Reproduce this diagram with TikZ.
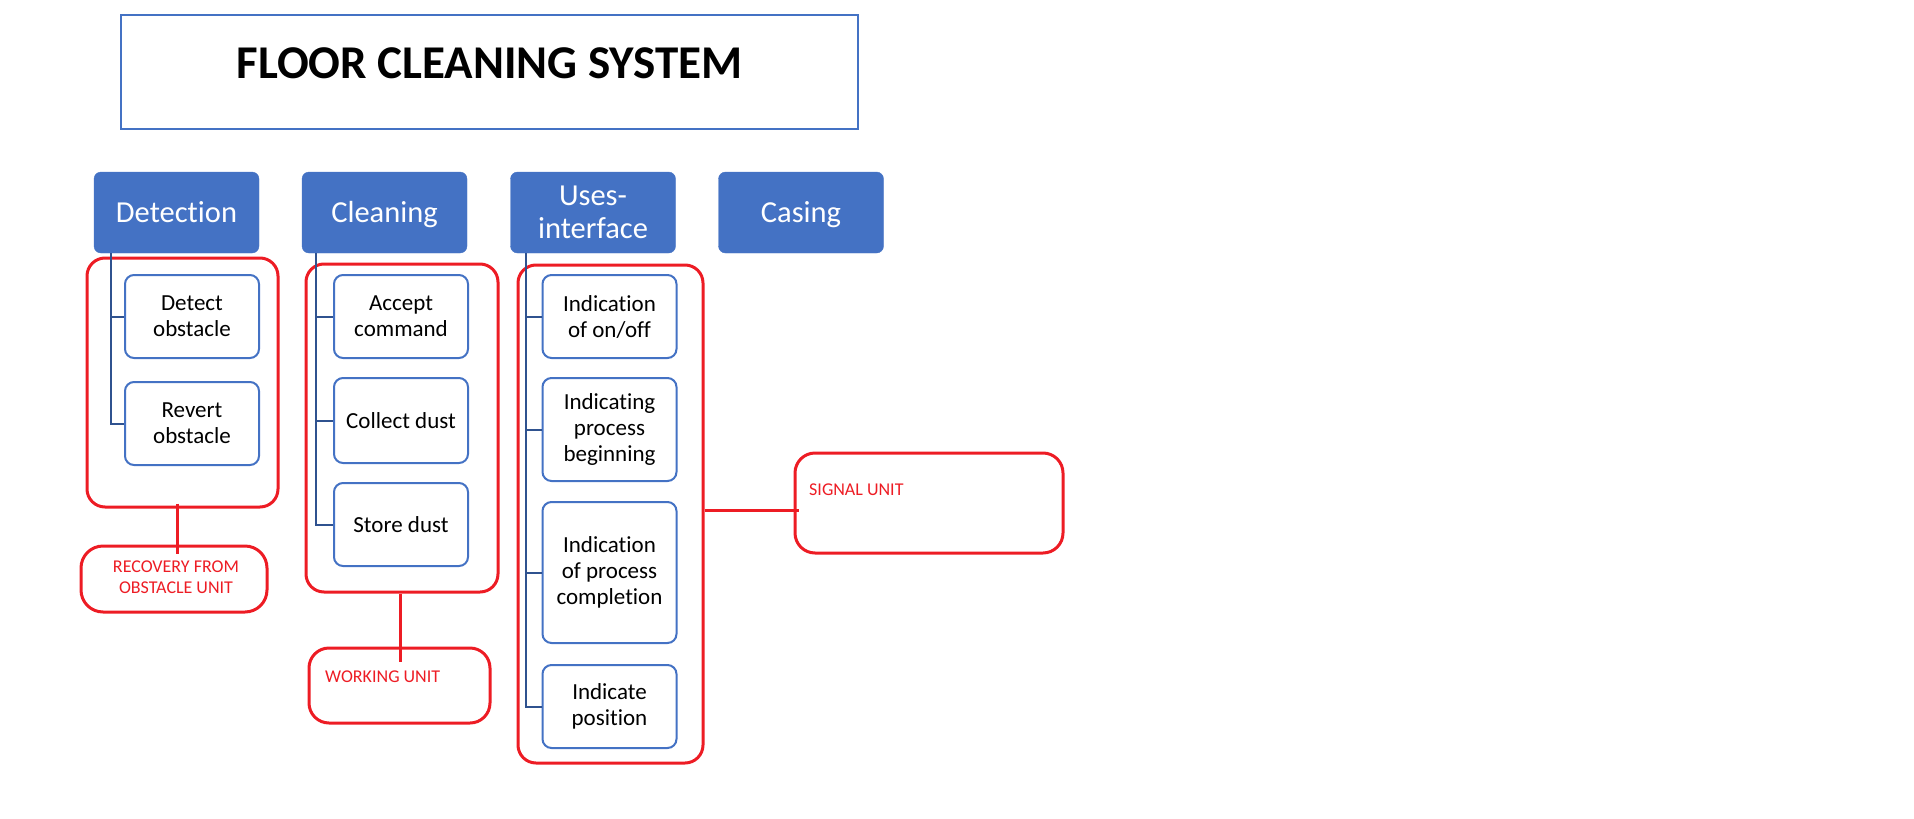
\documentclass[tikz,border=0pt]{standalone}
\usepackage{fontspec}
\setmainfont{Carlito}[RawFeature={-liga}]
\usetikzlibrary{calc}
\definecolor{hblue}{HTML}{4472C4}
\definecolor{dblue}{HTML}{2F528F}
\definecolor{ured}{HTML}{ED1C24}
\begin{document}
\begin{tikzpicture}[x=1pt,y=-1pt,
 header/.style={fill=hblue, draw=hblue, rounded corners=7pt, text=white, font=\fontsize{30.5}{33}\selectfont, minimum width=165pt, minimum height=81pt, align=center, inner sep=0pt},
 oneline/.style={text height=19.6pt, text depth=0pt},
 child/.style={draw=hblue, line width=2pt, rounded corners=9pt, fill=white, font=\fontsize{23}{26}\selectfont, minimum width=134pt, align=center, inner sep=0pt},
 group/.style={draw=ured, line width=3pt, rounded corners=18pt, inner sep=0pt},
 unitbox/.style={draw=ured, line width=3pt, rounded corners=22pt, inner sep=0pt},
 unittext/.style={text=ured, font=\fontsize{18}{21.5}\selectfont, align=center, inner sep=0pt},
 tree/.style={draw=dblue, line width=2pt},
 redline/.style={draw=ured, line width=3pt}]
\useasboundingbox (0,0) rectangle (1914,819);

% title
\node[draw=hblue, line width=2pt, minimum width=737pt, minimum height=114pt, inner sep=0pt] (titlebox) at (489.5,72) {};
\node[font=\fontsize{47}{56}\selectfont\bfseries, inner sep=0pt] (titletext) at (489.5,63) {FLOOR CLEANING SYSTEM};

% headers
\node[header, oneline] (det) at (176.5,212.5) {Detection};
\node[header, oneline] (cln) at (384.5,212.5) {Cleaning};
\node[header] (ui)  at (593,212.5) {Uses-\\interface};
\node[header, oneline] (cas) at (801,212.5) {Casing};

% red groups
\node[group, minimum width=191pt, minimum height=249pt] (gdet) at (182.5,382.5) {};
\node[group, minimum width=192pt, minimum height=328pt] (gcln) at (402,428) {};
\node[group, minimum width=185pt, minimum height=498pt] (gui) at (610.5,514) {};

% children
\node[child, minimum height=83pt] (det1) at (192,316.5) {Detect\\obstacle};
\node[child, minimum height=83pt] (det2) at (192,423.5) {Revert\\obstacle};
\node[child, minimum height=83pt] (cln1) at (401,316.5) {Accept\\command};
\node[child, minimum height=85pt] (cln2) at (401,420.5) {Collect dust};
\node[child, minimum height=83pt] (cln3) at (401,524.5) {Store dust};
\node[child, minimum height=83pt] (ui1) at (609.5,316.5) {Indication\\of on/off};
\node[child, minimum height=103pt] (ui2) at (609.5,429.5) {Indicating\\process\\beginning};
\node[child, minimum height=141pt] (ui3) at (609.5,572.5) {Indication\\of process\\completion};
\node[child, minimum height=83pt] (ui4) at (609.5,706.5) {Indicate\\position};

% tree lines
\foreach \c in {det1,det2} \draw[tree] ($(det.south west)+(17,0)$) |- (\c.west);
\foreach \c in {cln1,cln2,cln3} \draw[tree] ($(cln.south west)+(14,0)$) |- (\c.west);
\foreach \c in {ui1,ui2,ui3,ui4} \draw[tree] ($(ui.south west)+(16,0)$) |- (\c.west);

% unit boxes
\node[unitbox, minimum width=186pt, minimum height=66pt] (rec) at (174,579) {};
\node[unittext] (rectext) at (176,577) {RECOVERY FROM\\OBSTACLE UNIT};
\node[unitbox, minimum width=181pt, minimum height=75pt, rounded corners=20pt] (work) at (399.5,685.5) {};
\node[unittext, anchor=base west] (worktext) at (325,682) {WORKING UNIT};
\node[unitbox, minimum width=268pt, minimum height=100pt, rounded corners=20pt] (sig) at (929,503) {};
\node[unittext, anchor=base west] (sigtext) at (809,495) {SIGNAL UNIT};

% red connectors
\draw[redline] ($(gdet.south)+(-5.5,-5)$) -- ($(gdet.south |- rec.north)+(-5.5,9)$);
\draw[redline] ($(gcln.south)+(-2,0)$) -- ($(gcln.south |- work.north)+(-2,15)$);
\draw[redline] ($(gui.east)+(0,-4)$) -- ($(gui.east -| sig.west)+(5,-4)$);
\end{tikzpicture}
\end{document}
